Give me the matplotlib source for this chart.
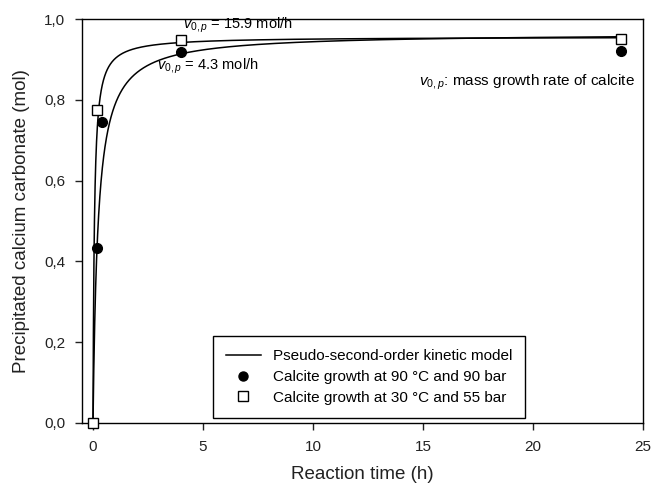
import numpy as np
import matplotlib
matplotlib.use("Agg")
import matplotlib.pyplot as plt

plt.rcParams['font.family'] = ['Liberation Sans', 'DejaVu Sans']
plt.rcParams['mathtext.fontset'] = 'custom'
plt.rcParams['mathtext.rm'] = 'Liberation Sans'
plt.rcParams['mathtext.it'] = 'Liberation Sans:italic'

# data
t_90 = [0, 0.2, 0.42, 4, 24]
q_90 = [0, 0.433, 0.744, 0.918, 0.922]
t_30 = [0, 0.2, 4, 24]
q_30 = [0, 0.774, 0.948, 0.951]

# pseudo-second-order model parameters (initial rate, equilibrium amount)
v0_90, qe_90 = 4.3, 0.965
v0_30, qe_30 = 15.9, 0.956


def pso(t, v0, qe):
    return v0 * t / (1 + v0 * t / qe)


tt = np.linspace(0, 24, 4000)

fig = plt.figure(figsize=(6.53, 4.87), dpi=100)
ax = fig.add_axes([82 / 653, 1 - 423 / 487, (643 - 82) / 653, (423 - 19) / 487])

l1, = ax.plot(tt, pso(tt, v0_90, qe_90), 'k-', lw=1.1)
ax.plot(tt, pso(tt, v0_30, qe_30), 'k-', lw=1.1)
p1, = ax.plot(t_90, q_90, 'o', color='k', ms=7, ls='none', clip_on=False, zorder=3)
p2, = ax.plot(t_30, q_30, 's', mfc='white', mec='k', mew=1.0, ms=7.5, ls='none',
              clip_on=False, zorder=4)

ax.set_xlim(-0.5, 25)
ax.set_ylim(0, 1.0)
ax.set_xticks([0, 5, 10, 15, 20, 25])
ax.set_yticks([0, 0.2, 0.4, 0.6, 0.8, 1.0])
ax.set_yticklabels(['0,0', '0,2', '0,4', '0,6', '0,8', '1,0'])
ax.tick_params(direction='out', length=5, width=1, labelsize=11, colors='#222222', pad=7)
for s in ax.spines.values():
    s.set_linewidth(1.0)

ax.set_xlabel('Reaction time (h)', fontsize=13.5, labelpad=9, color='#222222')
ax.set_ylabel('Precipitated calcium carbonate (mol)', fontsize=13.5, labelpad=10, color='#222222')

ax.text(4.1, 0.96, r'$\mathit{v_{0,p}}$ = 15.9 mol/h', fontsize=10.5, va='bottom')
ax.text(2.9, 0.86, r'$\mathit{v_{0,p}}$ = 4.3 mol/h', fontsize=10.5, va='bottom')
ax.text(24.65, 0.82, r'$\mathit{v_{0,p}}$: mass growth rate of calcite', fontsize=11,
        ha='right', va='bottom')

leg = ax.legend([l1, p1, p2],
                ['Pseudo-second-order kinetic model',
                 'Calcite growth at 90 \u00b0C and 90 bar',
                 'Calcite growth at 30 \u00b0C and 55 bar'],
                loc='lower left', bbox_to_anchor=(0.233, 0.013), fontsize=11,
                frameon=True, fancybox=False, edgecolor='k', framealpha=1,
                handlelength=2.3, borderpad=0.85, labelspacing=0.45, borderaxespad=0,
                handletextpad=0.8)
leg.get_frame().set_linewidth(1.0)
leg.legend_handles[1].set_markersize(6.5)
leg.legend_handles[2].set_markersize(7)

fig.savefig('out.png', dpi=100)
